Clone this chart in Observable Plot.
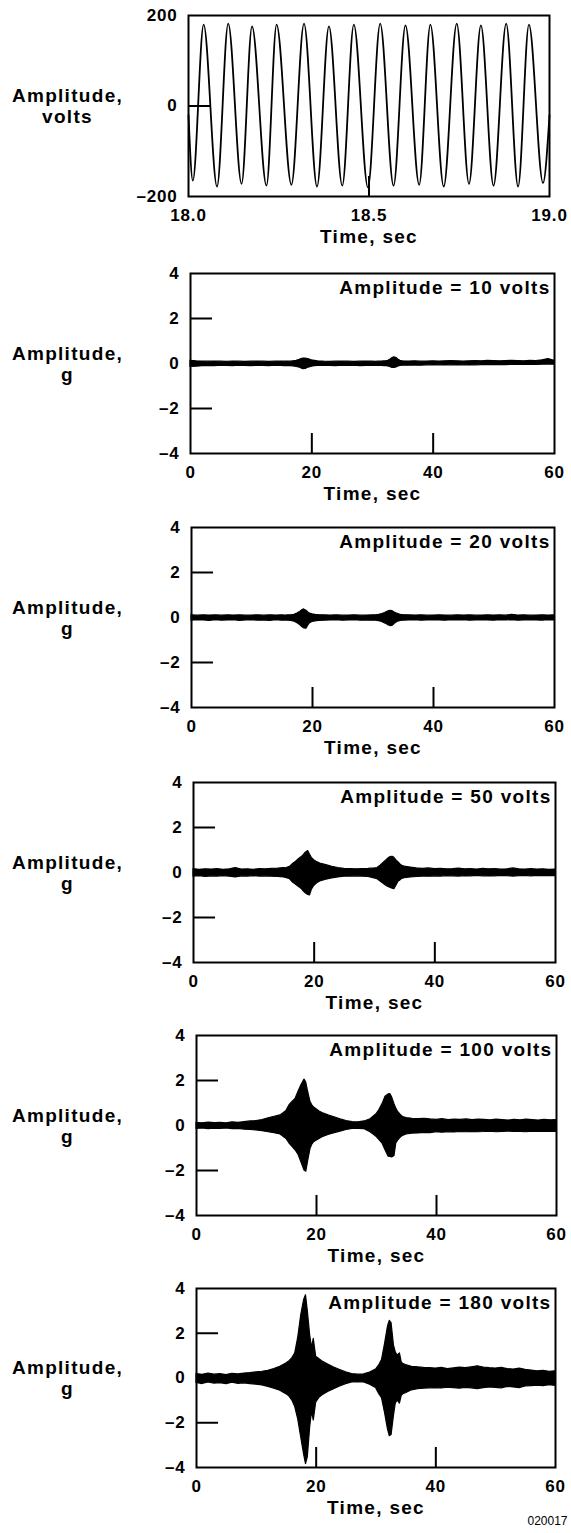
<!DOCTYPE html>
<html><head><meta charset="utf-8">
<script src="https://cdn.jsdelivr.net/npm/d3@7"></script>
<script src="https://cdn.jsdelivr.net/npm/@observablehq/plot@0.6"></script>
<style>
html,body{margin:0;padding:0;background:#fff;}
#chart{position:relative;width:571px;height:1533px;background:#fff;}
</style></head><body><div id="chart"></div>
<script>
// ---- Panel 1: drive voltage, 18.0–19.0 s (peaks and troughs)
const sineT = [18.0, 18.012, 18.042, 18.079, 18.110, 18.147, 18.176, 18.216, 18.244, 18.285, 18.320, 18.356, 18.389, 18.426, 18.458, 18.497, 18.531, 18.568, 18.601, 18.639, 18.670, 18.707, 18.743, 18.777, 18.810, 18.845, 18.880, 18.913, 18.943, 18.982, 19.0];
const sineV = [-20, -165, 180, -178, 182, -172, 176, -176, 180, -174, 182, -178, 176, -176, 180, -180, 182, -176, 178, -174, 180, -178, 182, -172, 178, -176, 182, -178, 180, -170, -20];
const voltXTicks = [18.0, 18.5, 19.0];
const voltYTicks = [-200, 0, 200];

// ---- Panels 2–6: acceleration envelope (upper / lower), g, vs time, sec
const T = [0,1,2,3,4,5,6,7,8,9,10,11,12,13,14,15,
  15.5,16,16.5,17,17.5,18,
  18.3,18.6,19,19.3,19.6,20,
  20.5,21,
  22,23,24,25,26,27,28,29,30,
  30.5,31,31.5,32,
  32.3,32.6,33,33.3,33.6,34,34.3,34.6,35,
  36,37,38,39,40,41,42,43,44,45,46,47,48,49,50,51,52,53,54,55,56,57,58,59,60];

const up10 = [0.12,0.1,0.09,0.08,0.09,0.08,0.07,0.09,0.08,0.07,0.08,0.09,0.08,0.07,0.08,0.09,
  0.08,0.09,0.08,0.1,0.12,0.16,
  0.2,0.22,0.22,0.2,0.18,0.14,
  0.12,0.1,
  0.08,0.07,0.08,0.09,0.08,0.07,0.08,0.09,0.08,
  0.07,0.08,0.09,0.1,
  0.1,0.12,0.18,0.24,0.27,0.24,0.16,0.12,0.1,
  0.09,0.1,0.08,0.09,0.1,0.09,0.1,0.11,0.1,0.09,0.1,0.11,0.1,0.12,0.11,0.1,0.11,0.12,0.11,0.1,0.12,0.11,0.14,0.2,0.12];
const lo10 = [-0.15,-0.14,-0.12,-0.11,-0.12,-0.1,-0.11,-0.12,-0.1,-0.11,-0.12,-0.1,-0.11,-0.12,-0.1,-0.11,
  -0.12,-0.11,-0.12,-0.13,-0.15,-0.18,
  -0.22,-0.25,-0.24,-0.2,-0.17,-0.14,
  -0.12,-0.11,
  -0.1,-0.11,-0.12,-0.1,-0.11,-0.1,-0.12,-0.11,-0.1,
  -0.11,-0.1,-0.11,-0.12,
  -0.12,-0.13,-0.16,-0.2,-0.2,-0.17,-0.13,-0.11,-0.1,
  -0.1,-0.09,-0.1,-0.08,-0.09,-0.08,-0.09,-0.08,-0.07,-0.08,-0.07,-0.08,-0.07,-0.06,-0.07,-0.06,-0.07,-0.06,-0.05,-0.06,-0.05,-0.06,-0.05,-0.04,-0.05];

const up20 = [0.1,0.08,0.1,0.09,0.1,0.08,0.1,0.09,0.1,0.08,0.09,0.1,0.08,0.1,0.09,0.1,
  0.09,0.1,0.1,0.12,0.18,0.26,
  0.32,0.36,0.3,0.22,0.18,0.14,
  0.12,0.11,
  0.1,0.09,0.1,0.08,0.09,0.1,0.08,0.09,0.1,
  0.1,0.12,0.15,0.2,
  0.24,0.28,0.3,0.27,0.22,0.17,0.14,0.12,0.11,
  0.1,0.09,0.1,0.08,0.09,0.1,0.09,0.08,0.1,0.09,0.1,0.08,0.09,0.1,0.09,0.1,0.08,0.12,0.09,0.1,0.08,0.09,0.1,0.09,0.1];
const lo20 = [-0.14,-0.12,-0.13,-0.15,-0.12,-0.14,-0.13,-0.12,-0.15,-0.13,-0.12,-0.14,-0.13,-0.15,-0.12,-0.14,
  -0.13,-0.14,-0.15,-0.18,-0.25,-0.35,
  -0.42,-0.48,-0.5,-0.35,-0.25,-0.2,
  -0.17,-0.15,
  -0.14,-0.13,-0.12,-0.14,-0.13,-0.12,-0.14,-0.13,-0.14,
  -0.14,-0.16,-0.2,-0.26,
  -0.3,-0.35,-0.38,-0.36,-0.28,-0.2,-0.17,-0.15,-0.14,
  -0.13,-0.12,-0.14,-0.13,-0.12,-0.13,-0.14,-0.12,-0.13,-0.12,-0.14,-0.13,-0.12,-0.13,-0.14,-0.12,-0.13,-0.12,-0.14,-0.13,-0.12,-0.13,-0.14,-0.12,-0.13];

const up50 = [0.15,0.12,0.14,0.13,0.15,0.12,0.14,0.2,0.13,0.14,0.12,0.15,0.14,0.16,0.17,0.2,
  0.21,0.25,0.38,0.48,0.6,0.7,
  0.78,0.88,0.95,0.8,0.65,0.55,
  0.46,0.4,
  0.33,0.25,0.2,0.16,0.15,0.14,0.15,0.16,0.18,
  0.2,0.3,0.42,0.55,
  0.62,0.68,0.7,0.65,0.55,0.45,0.36,0.3,0.26,
  0.22,0.18,0.16,0.18,0.15,0.16,0.14,0.15,0.17,0.14,0.15,0.13,0.16,0.14,0.15,0.13,0.14,0.18,0.14,0.13,0.15,0.13,0.14,0.12,0.13];
const lo50 = [-0.18,-0.16,-0.2,-0.17,-0.18,-0.16,-0.19,-0.22,-0.17,-0.18,-0.16,-0.18,-0.17,-0.19,-0.2,-0.22,
  -0.25,-0.3,-0.45,-0.55,-0.65,-0.75,
  -0.85,-0.92,-1.0,-1.02,-0.78,-0.6,
  -0.48,-0.4,
  -0.32,-0.26,-0.22,-0.19,-0.18,-0.17,-0.18,-0.2,-0.26,
  -0.3,-0.4,-0.5,-0.6,
  -0.64,-0.68,-0.72,-0.74,-0.6,-0.4,-0.35,-0.28,-0.25,
  -0.22,-0.2,-0.18,-0.19,-0.17,-0.18,-0.16,-0.17,-0.18,-0.16,-0.17,-0.15,-0.17,-0.16,-0.17,-0.15,-0.16,-0.18,-0.16,-0.15,-0.17,-0.15,-0.16,-0.15,-0.16];

const up100 = [0.12,0.1,0.13,0.11,0.12,0.1,0.14,0.12,0.15,0.18,0.2,0.24,0.32,0.38,0.45,0.65,
  0.9,1.05,1.18,1.5,1.8,2.04,
  1.9,1.5,1.04,0.9,0.8,0.72,
  0.62,0.55,
  0.45,0.36,0.27,0.2,0.15,0.14,0.18,0.28,0.5,
  0.7,0.95,1.28,1.38,
  1.4,1.25,0.95,0.75,0.6,0.48,0.4,0.36,0.33,
  0.3,0.28,0.3,0.27,0.25,0.28,0.24,0.26,0.25,0.27,0.24,0.26,0.25,0.23,0.26,0.24,0.22,0.25,0.23,0.26,0.24,0.22,0.25,0.23,0.24];
const lo100 = [-0.15,-0.13,-0.16,-0.14,-0.15,-0.13,-0.16,-0.15,-0.18,-0.2,-0.22,-0.25,-0.3,-0.34,-0.4,-0.6,
  -0.8,-0.95,-1.1,-1.3,-1.65,-2.0,
  -2.05,-1.6,-1.04,-0.85,-0.74,-0.68,
  -0.6,-0.52,
  -0.42,-0.34,-0.27,-0.2,-0.15,-0.15,-0.16,-0.3,-0.5,
  -0.65,-0.8,-1.1,-1.38,
  -1.4,-1.42,-1.35,-0.8,-0.67,-0.55,-0.48,-0.44,-0.4,
  -0.36,-0.35,-0.33,-0.34,-0.3,-0.32,-0.3,-0.31,-0.29,-0.3,-0.28,-0.3,-0.29,-0.27,-0.3,-0.28,-0.27,-0.29,-0.28,-0.3,-0.27,-0.28,-0.29,-0.27,-0.28];

const up180 = [0.18,0.14,0.2,0.15,0.17,0.13,0.19,0.16,0.2,0.22,0.25,0.28,0.32,0.4,0.5,0.65,
  0.74,0.88,1.1,1.8,2.8,3.5,
  3.7,3.0,1.9,1.35,1.75,0.95,
  0.85,0.75,
  0.6,0.47,0.36,0.25,0.18,0.15,0.16,0.24,0.38,
  0.55,0.8,1.5,2.3,
  2.55,2.45,1.45,1.15,1.0,1.1,0.7,0.62,0.58,
  0.5,0.48,0.45,0.44,0.42,0.45,0.4,0.43,0.46,0.44,0.48,0.52,0.47,0.44,0.42,0.45,0.4,0.38,0.42,0.36,0.33,0.3,0.32,0.28,0.3];
const lo180 = [-0.22,-0.27,-0.2,-0.25,-0.23,-0.28,-0.21,-0.26,-0.24,-0.27,-0.3,-0.33,-0.4,-0.48,-0.57,-0.72,
  -0.82,-1.0,-1.3,-1.85,-2.65,-3.45,
  -3.85,-3.55,-2.2,-1.5,-1.9,-1.1,
  -0.9,-0.78,
  -0.62,-0.5,-0.38,-0.28,-0.2,-0.18,-0.2,-0.3,-0.45,
  -0.7,-0.9,-1.55,-2.3,
  -2.6,-2.55,-1.7,-1.15,-1.0,-1.15,-0.8,-0.72,-0.68,
  -0.55,-0.5,-0.48,-0.46,-0.45,-0.47,-0.43,-0.45,-0.48,-0.44,-0.46,-0.5,-0.45,-0.42,-0.44,-0.46,-0.4,-0.42,-0.45,-0.38,-0.36,-0.34,-0.36,-0.32,-0.35];

const accXTicks = [0, 20, 40, 60];
const accYTicks = [-4, -2, 0, 2, 4];
const accInnerX = [20, 40];
const accInnerY = [-2, 0, 2];
const notes = ["Amplitude = 10 volts", "Amplitude = 20 volts", "Amplitude = 50 volts", "Amplitude = 100 volts", "Amplitude = 180 volts"];
const envUp = [up10, up20, up50, up100, up180];
const envLo = [lo10, lo20, lo50, lo100, lo180];
const xLabel = "Time, sec";
const yLabelVolts = "Amplitude,\nvolts";
const yLabelG = "Amplitude,\ng";
const figId = "020017";

// ---- layout (frame boxes in page pixels)
const W = 571;
const frames = [
  {left: 188, right: 549, top: 15, bottom: 196},
  {left: 190, right: 554, top: 273, bottom: 453},
  {left: 191, right: 554, top: 527, bottom: 707},
  {left: 193, right: 555, top: 782, bottom: 962},
  {left: 196, right: 556, top: 1035, bottom: 1215},
  {left: 196, right: 555, top: 1288, bottom: 1467}
];
const FONT = '"Liberation Sans", Arial, Helvetica, sans-serif';
const minusFmt = d => d < 0 ? "\u2013" + (-d) : String(d);
const chart = document.getElementById("chart");

function panel(f, opts) {
  const mT = 15, mB = 66;
  const h = f.bottom - f.top;
  const w = f.right - f.left;
  const marks = [
    ...opts.data,
    Plot.tickY(opts.innerY, {y: d => d, insetRight: w - 22, strokeWidth: 2}),
    Plot.tickX(opts.innerX, {x: d => d, insetTop: h - 20, strokeWidth: 2}),
    Plot.frame({strokeWidth: 2}),
    Plot.axisX(opts.xTicks, {tickSize: 0, tickPadding: 12, tickFormat: opts.xFormat, fontSize: 17, label: null}),
    Plot.axisY(opts.yTicks, {tickSize: 0, tickPadding: 11, tickFormat: opts.yFormat, fontSize: 17, label: null}),
    Plot.text([opts.ylabel], {text: d => d, y: () => 0, frameAnchor: "left", dx: 67 - f.left, textAnchor: "middle", lineAnchor: "middle", lineHeight: 1.1, fontSize: 19}),
    Plot.text([xLabel], {text: d => d, frameAnchor: "bottom", dy: 40, lineAnchor: "middle", fontSize: 19})
  ];
  if (opts.note) marks.push(Plot.text([opts.note], {text: d => d, frameAnchor: "top-right", dx: -4, dy: 14, textAnchor: "end", lineAnchor: "middle", fontSize: 19}));
  if (opts.fig) marks.push(Plot.text([opts.fig], {text: d => d, frameAnchor: "bottom-right", dx: 12, dy: 54, textAnchor: "end", lineAnchor: "middle", fontSize: 12, fontWeight: "normal"}));
  const svg = Plot.plot({
    width: W, height: mT + h + mB,
    marginLeft: f.left, marginRight: W - f.right, marginTop: mT, marginBottom: mB,
    x: {domain: opts.xDomain}, y: {domain: opts.yDomain},
    style: {position: "absolute", left: "0px", top: (f.top - mT) + "px", fontFamily: FONT, fontWeight: "bold", letterSpacing: "1.3px", color: "black", background: "transparent", overflow: "visible"},
    marks
  });
  svg.querySelectorAll("text").forEach(t => {
    if (t.textContent === figId) t.style.letterSpacing = "0px";
    else if (/^[–\d.]+$/.test(t.textContent)) t.style.letterSpacing = "0.8px";
  });
  chart.appendChild(svg);
}

// Panel 1
panel(frames[0], {
  data: [Plot.line(d3.range(sineT.length), {x: i => sineT[i], y: i => sineV[i], curve: "monotone-x", strokeWidth: 1.8, stroke: "black"})],
  innerY: [0], innerX: [18.5],
  xTicks: voltXTicks, yTicks: voltYTicks,
  xFormat: d3.format(".1f"), yFormat: minusFmt,
  xDomain: [18, 19], yDomain: [-200, 200],
  ylabel: yLabelVolts
});

// Panels 2–6
for (let k = 0; k < 5; k++) {
  const up = envUp[k], lo = envLo[k];
  panel(frames[k + 1], {
    data: [Plot.areaY(d3.range(T.length), {x: i => T[i], y1: i => lo[i], y2: i => up[i], fill: "black", stroke: "black", strokeWidth: 1.2})],
    innerY: accInnerY, innerX: accInnerX,
    xTicks: accXTicks, yTicks: accYTicks,
    xFormat: minusFmt, yFormat: minusFmt,
    xDomain: [0, 60], yDomain: [-4, 4],
    ylabel: yLabelG, note: notes[k],
    fig: k === 4 ? figId : null
  });
}
</script></body></html>
